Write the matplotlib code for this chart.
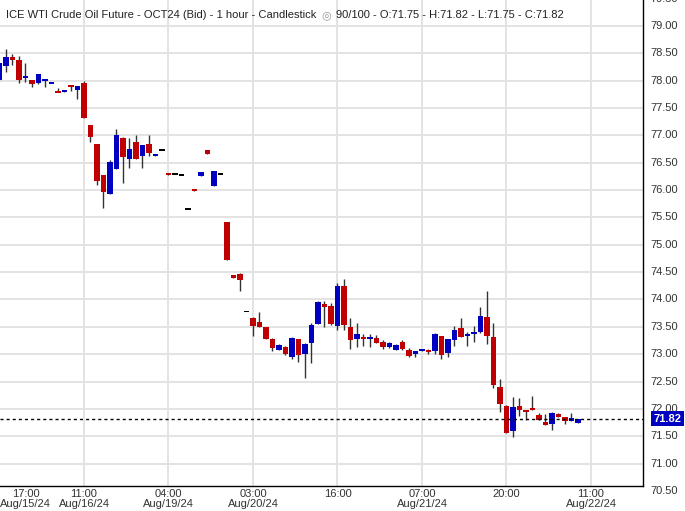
import matplotlib
matplotlib.use("Agg")
import matplotlib.pyplot as plt
import matplotlib.transforms as mtransforms
import numpy as np

# hourly bars, ICE WTI OCT24 (bid)
opens = [78.01, 78.27, 78.43, 78.38, 78.04, 78.01, 77.96, 78.00, 77.95, 77.80,
         77.80, 77.91, 77.83, 77.96, 77.19, 76.84, 76.28, 75.92, 76.39, 76.95,
         76.57, 76.88, 76.63, 76.84, 76.63, 76.74, 76.31, 76.29, 76.27, 75.66,
         76.01, 76.26, 76.73, 76.08, 76.29, 75.42, 74.45, 74.47, 73.78, 73.67,
         73.59, 73.50, 73.28, 73.08, 73.13, 72.95, 73.27, 73.01, 73.21, 73.56,
         73.92, 73.88, 73.52, 74.25, 73.50, 73.28, 73.30, 73.29, 73.29, 73.22,
         73.13, 73.08, 73.22, 73.08, 73.01, 73.07, 73.08, 73.05, 73.33, 73.03,
         73.26, 73.48, 73.33, 73.37, 73.41, 73.68, 73.31, 72.40, 72.06, 71.60,
         72.06, 71.96, 72.02, 71.89, 71.76, 71.73, 71.91, 71.86, 71.78, 71.75]
highs = [78.32, 78.58, 78.49, 78.45, 78.32, 78.02, 78.12, 78.01, 77.96, 77.86,
         77.83, 77.91, 77.91, 78.00, 77.19, 76.84, 76.28, 76.55, 77.12, 76.97,
         76.95, 77.01, 76.82, 77.01, 76.65, 76.74, 76.31, 76.29, 76.27, 75.66,
         76.01, 76.33, 76.73, 76.35, 76.29, 75.42, 74.45, 74.49, 73.78, 73.68,
         73.77, 73.50, 73.30, 73.19, 73.15, 73.32, 73.27, 73.20, 73.57, 73.97,
         73.97, 73.94, 74.30, 74.37, 73.66, 73.57, 73.37, 73.37, 73.35, 73.26,
         73.22, 73.18, 73.26, 73.11, 73.06, 73.10, 73.10, 73.39, 73.33, 73.28,
         73.51, 73.66, 73.41, 73.51, 73.86, 74.15, 73.57, 72.55, 72.07, 72.22,
         72.19, 71.98, 72.24, 71.93, 71.91, 71.95, 71.93, 71.86, 71.93, 71.82]
lows = [78.01, 78.15, 78.29, 77.96, 77.98, 77.89, 77.94, 77.89, 77.95, 77.79,
        77.79, 77.82, 77.67, 77.32, 76.88, 76.10, 75.68, 75.92, 76.39, 76.13,
        76.41, 76.57, 76.41, 76.63, 76.63, 76.74, 76.28, 76.29, 76.27, 75.66,
        75.99, 76.26, 76.66, 76.08, 76.29, 74.72, 74.40, 74.16, 73.78, 73.34,
        73.50, 73.27, 73.06, 73.08, 72.98, 72.92, 72.86, 72.57, 72.84, 73.56,
        73.50, 73.54, 73.45, 73.45, 73.10, 73.13, 73.15, 73.13, 73.20, 73.09,
        73.11, 73.07, 73.08, 72.94, 72.95, 73.05, 73.01, 73.01, 72.92, 72.94,
        73.15, 73.31, 73.15, 73.22, 73.39, 73.19, 72.39, 71.95, 71.56, 71.49,
        71.87, 71.80, 71.98, 71.80, 71.71, 71.62, 71.86, 71.73, 71.78, 71.75]
closes = [78.32, 78.43, 78.38, 78.01, 78.09, 77.94, 78.12, 78.01, 77.96, 77.79,
          77.83, 77.89, 77.90, 77.32, 76.97, 76.17, 75.97, 76.51, 77.01, 76.61,
          76.75, 76.57, 76.82, 76.68, 76.65, 76.74, 76.28, 76.29, 76.27, 75.66,
          75.99, 76.33, 76.66, 76.35, 76.29, 74.72, 74.40, 74.36, 73.78, 73.51,
          73.50, 73.28, 73.12, 73.17, 73.01, 73.30, 72.99, 73.19, 73.53, 73.95,
          73.86, 73.56, 74.25, 73.54, 73.26, 73.37, 73.29, 73.30, 73.20, 73.13,
          73.20, 73.17, 73.09, 72.97, 73.05, 73.08, 73.05, 73.37, 72.99, 73.28,
          73.44, 73.31, 73.37, 73.39, 73.70, 73.33, 72.44, 72.08, 71.56, 72.04,
          71.98, 71.95, 71.98, 71.80, 71.71, 71.93, 71.86, 71.77, 71.84, 71.82]

tick_pos = [4, 13, 26, 39, 52, 65, 78, 91]
tick_labels = ["17:00\nAug/15/24", "11:00\nAug/16/24", "04:00\nAug/19/24",
               "03:00\nAug/20/24", "16:00", "07:00\nAug/21/24", "20:00",
               "11:00\nAug/22/24"]
grid_pos = [13, 26, 39, 52, 65, 78, 91]
price_levels = [70.5, 71.0, 71.5, 72.0, 72.5, 73.0, 73.5, 74.0, 74.5,
                75.0, 75.5, 76.0, 76.5, 77.0, 77.5, 78.0, 78.5, 79.0, 79.5]
last_price = 71.82
header = "ICE WTI Crude Oil Future - OCT24 (Bid) - 1 hour - Candlestick"
header_info = "90/100 - O:71.75 - H:71.82 - L:71.75 - C:71.82"

UP = "#0000c0"
DOWN = "#c00000"
FLAT = "#000000"
TXT = "#333333"
GRID = "#e3e3e3"

plt.rcParams["font.family"] = ["Liberation Sans", "DejaVu Sans"]

fig = plt.figure(figsize=(6.85, 5.11), dpi=100)
ax = fig.add_axes([0, 25 / 511, 643 / 685, 486 / 511])

o = np.array(opens)
c = np.array(closes)
h = np.array(highs)
l = np.array(lows)
x = np.arange(len(o))

colors = np.where(c > o, UP, np.where(c < o, DOWN, FLAT))
bottoms = np.minimum(o, c)
heights = np.maximum(np.abs(c - o), 0.035)  # keep dojis visible as a dash
bottoms = np.where(np.abs(c - o) < 0.035, (o + c) / 2 - 0.0175, bottoms)

ax.vlines(x, l, h, color="#333333", lw=1.0, zorder=2)
ax.bar(x, heights, bottom=bottoms, width=0.77, color=colors, zorder=3,
       linewidth=0)

# last price line
ax.axhline(last_price, color="black", lw=1.0, dashes=(2.2, 2.2), zorder=4)

ax.set_xlim(0.077, 99.0)
ax.set_ylim(70.59, 79.475)

# grid
for p in price_levels:
    ax.axhline(p, color=GRID, lw=1.4, zorder=0)
for g in grid_pos:
    ax.axvline(g, color=GRID, lw=1.4, zorder=0)

ax.set_yticks([])
ax.set_xticks(tick_pos)
ax.set_xticklabels(tick_labels, fontsize=8, color=TXT, linespacing=1.05)
ax.tick_params(axis="both", which="both", length=0, pad=2)

for side in ["left", "top"]:
    ax.spines[side].set_visible(False)
ax.spines["right"].set_color("black")
ax.spines["bottom"].set_color("black")
ax.spines["right"].set_linewidth(1.0)
ax.spines["bottom"].set_linewidth(1.0)

# price labels on the right
trans = mtransforms.blended_transform_factory(ax.transAxes, ax.transData)
for p in price_levels:
    ax.text(1.012, p, f"{p:.2f}", transform=trans, ha="left", va="center",
            fontsize=8, color=TXT, clip_on=False)
ax.text(1.016, last_price, f"{last_price:.2f}", transform=trans, ha="left",
        va="center", fontsize=8, color="white", fontweight="bold",
        clip_on=False, zorder=10,
        bbox=dict(boxstyle="square,pad=0.22", fc=UP, ec="none"))

# header line
r = fig.canvas.get_renderer()
t1 = fig.text(6 / 685, 1 - 15 / 511, header, fontsize=8, color="#222222",
              va="center", ha="left")
bb = t1.get_window_extent(renderer=r)
t2 = fig.text((bb.x1 + 5) / 685, 1 - 15 / 511, "\u25ce", fontsize=8,
              color="#9a9a9a", va="center", ha="left",
              family="DejaVu Sans")
bb2 = t2.get_window_extent(renderer=r)
fig.text((bb2.x1 + 5) / 685, 1 - 15 / 511, header_info, fontsize=8,
         color="#222222", va="center", ha="left")

fig.savefig("out.png", dpi=100)
